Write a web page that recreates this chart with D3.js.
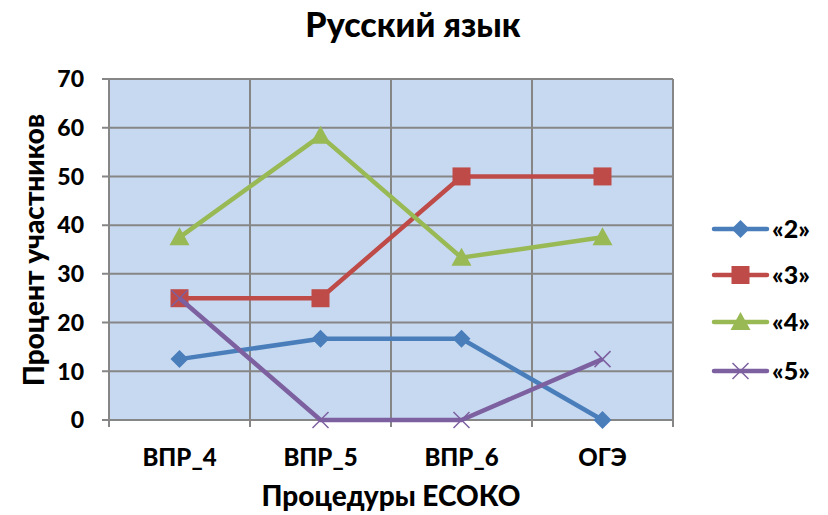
<!DOCTYPE html>
<html><head><meta charset="utf-8">
<script src="https://cdn.jsdelivr.net/npm/d3@7"></script>
<style>body{margin:0;background:#fff}svg{display:block}text{font-family:Lato,"Open Sans",sans-serif;font-weight:900;fill:#000}</style>
</head><body>
<svg id="c" width="828" height="515"></svg>
<script>
const categories = ["ВПР_4","ВПР_5","ВПР_6","ОГЭ"];
const yTicks = [0,10,20,30,40,50,60,70];
const s2 = [12.5, 16.67, 16.67, 0];
const s3 = [25, 25, 50, 50];
const s4 = [37.5, 58.33, 33.33, 37.5];
const s5 = [25, 0, 0, 12.5];
const seriesNames = ["«2»","«3»","«4»","«5»"];
const colors = ["#4A7EBB","#BE4B48","#98B954","#7D60A0"];
const series = [s2,s3,s4,s5];

const svg = d3.select("#c");
const L=109, R=673, T=79, B=420;
const x = d3.scaleBand().domain(categories).range([L,R]);
const y = d3.scaleLinear().domain([0,70]).range([B,T]);

svg.append("rect").attr("x",L).attr("y",T).attr("width",R-L).attr("height",B-T).attr("fill","#C6D9F0");
const g = svg.append("g");
yTicks.forEach(t=>{
  g.append("line").attr("x1",L-7).attr("x2",R).attr("y1",y(t)).attr("y2",y(t)).attr("stroke","#868686").attr("stroke-width",2);
  g.append("text").attr("x",L-25).attr("y",y(t)).attr("dy","0.36em").attr("text-anchor","end").attr("font-size",23).text(t);
});
const bounds = categories.map(c=>x(c)).concat([R]);
bounds.forEach(b=>{
  g.append("line").attr("x1",b).attr("x2",b).attr("y1",T).attr("y2",B+7).attr("stroke","#868686").attr("stroke-width",2);
});
categories.forEach(c=>{
  g.append("text").attr("x",x(c)+x.bandwidth()/2).attr("y",466).attr("text-anchor","middle").attr("font-size",24).text(c);
});

const line = d3.line().x((d,i)=>x(categories[i])+x.bandwidth()/2).y(d=>y(d));
function marker(sel, k, cx, cy){
  const col = colors[k];
  if(k===0){
    sel.append("path").attr("d",`M${cx},${cy-9}L${cx+9},${cy}L${cx},${cy+9}L${cx-9},${cy}Z`).attr("fill",col);
  } else if(k===1){
    sel.append("rect").attr("x",cx-9).attr("y",cy-9).attr("width",18).attr("height",18).attr("fill",col);
  } else if(k===2){
    sel.append("path").attr("d",`M${cx},${cy-10}L${cx+10},${cy+8}L${cx-10},${cy+8}Z`).attr("fill",col);
  } else {
    sel.append("path").attr("d",`M${cx-8},${cy-8}L${cx+8},${cy+8}M${cx+8},${cy-8}L${cx-8},${cy+8}`).attr("stroke",col).attr("stroke-width",1.5);
  }
}
series.forEach((s,k)=>{
  svg.append("path").attr("d",line(s)).attr("fill","none").attr("stroke",colors[k]).attr("stroke-width",4.5).attr("stroke-linejoin","round");
  const mg = svg.append("g");
  s.forEach((v,i)=>marker(mg,k,x(categories[i])+x.bandwidth()/2,y(v)));
});

// legend
const legY = [229,275,322,371];
seriesNames.forEach((n,k)=>{
  svg.append("line").attr("x1",714).attr("x2",767).attr("y1",legY[k]).attr("y2",legY[k]).attr("stroke",colors[k]).attr("stroke-width",4.5).attr("stroke-linecap","round");
  marker(svg,k,740.5,legY[k]);
  svg.append("text").attr("x",772).attr("y",legY[k]).attr("dy","0.36em").attr("font-size",25).text(n);
});

svg.append("text").attr("x",413).attr("y",37).attr("text-anchor","middle").attr("font-size",34).text("Русский язык");
svg.append("text").attr("x",391).attr("y",506).attr("text-anchor","middle").attr("font-size",28).text("Процедуры ЕСОКО");
svg.append("text").attr("transform","translate(44,250) rotate(-90)").attr("text-anchor","middle").attr("font-size",28).text("Процент участников");
</script>
</body></html>
